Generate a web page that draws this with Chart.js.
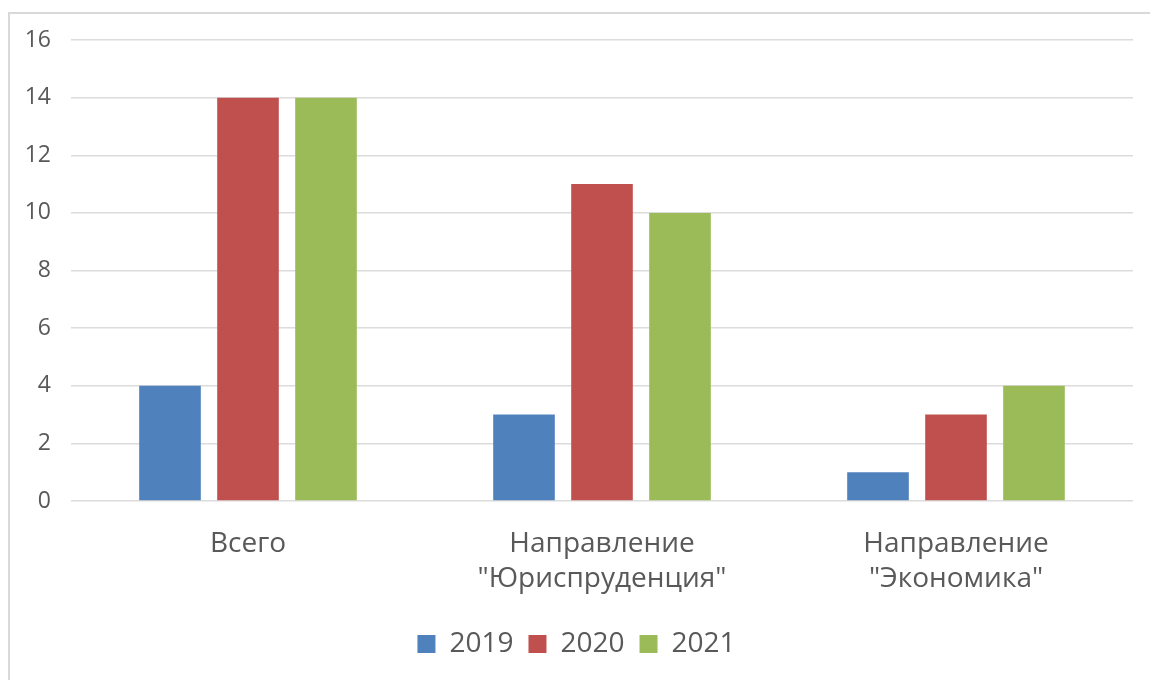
<!DOCTYPE html>
<html lang="ru">
<head>
    <meta charset="UTF-8">
    <title>Chart</title>
    <script src="https://cdn.jsdelivr.net/npm/chart.js"></script>
    <style>
        html, body {
            margin: 0;
            padding: 0;
            background: #FFFFFF;
            overflow: hidden;
        }

        .frame {
            position: absolute;
            left: 8px;
            top: 12px;
            width: 1200px;
            height: 720px;
            border: 2px solid #D9D9D9;
        }

        #chart {
            position: absolute;
            left: 0;
            top: 0;
        }
    </style>
</head>
<body>
    <div class="frame"></div>
    <canvas id="chart" width="1150" height="680"></canvas>

    <script>
        // Data
        const categories = [
            'Всего',
            ['Направление', '"Юриспруденция"'],
            ['Направление', '"Экономика"']
        ];
        const seriesNames = ['2019', '2020', '2021'];
        const values2019 = [4, 3, 1];
        const values2020 = [14, 11, 3];
        const values2021 = [14, 10, 4];
        const yTicks = [0, 2, 4, 6, 8, 10, 12, 14, 16];

        const colors = ['#4F81BD', '#C0504D', '#9BBB59'];
        const textColor = '#595959';
        const fontFamily = '"Open Sans", "Noto Sans", sans-serif';

        const ctx = document.getElementById('chart').getContext('2d');
        new Chart(ctx, {
            type: 'bar',
            data: {
                labels: categories,
                datasets: [values2019, values2020, values2021].map((vals, i) => ({
                    label: seriesNames[i],
                    data: vals,
                    backgroundColor: colors[i],
                    categoryPercentage: 0.661,
                    barPercentage: 0.79
                }))
            },
            options: {
                responsive: false,
                animation: false,
                layout: {
                    padding: { left: 20, right: 17, top: 40, bottom: 12 }
                },
                plugins: {
                    tooltip: { enabled: false },
                    legend: {
                        position: 'bottom',
                        labels: {
                            color: textColor,
                            font: { family: fontFamily, size: 28 },
                            boxWidth: 18,
                            boxHeight: 18,
                            padding: 15
                        }
                    }
                },
                scales: {
                    x: {
                        grid: { display: false },
                        border: { display: false },
                        ticks: {
                            color: textColor,
                            font: { family: fontFamily, size: 28, lineHeight: 1.25 },
                            padding: 18,
                            maxRotation: 0
                        }
                    },
                    y: {
                        min: 0,
                        max: 16,
                        afterBuildTicks: scale => {
                            scale.ticks = yTicks.map(v => ({ value: v }));
                        },
                        afterFit: scale => {
                            scale.width = 51;
                        },
                        grid: {
                            color: '#DCDCDC',
                            lineWidth: 1.5,
                            drawTicks: false
                        },
                        border: { display: false },
                        ticks: {
                            color: textColor,
                            font: { family: fontFamily, size: 23 },
                            padding: 20
                        }
                    }
                }
            }
        });
    </script>
</body>
</html>
